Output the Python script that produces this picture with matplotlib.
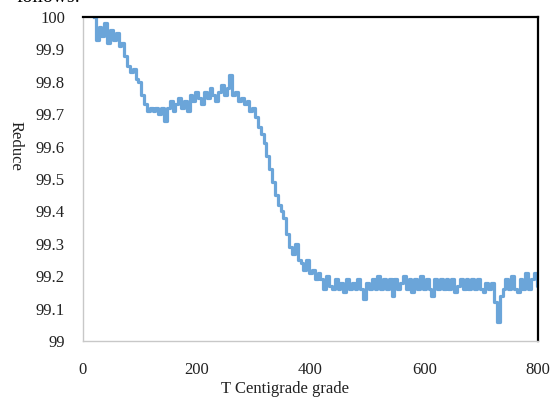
import numpy as np
import matplotlib
matplotlib.use("Agg")
import matplotlib.pyplot as plt

plt.rcParams['font.family'] = ['Liberation Serif', 'DejaVu Serif']

# temperature grid, 5 degree steps
temps = np.arange(20, 805, 5)

# mass remaining (%) per temperature step
reduce_pct = [
    100.00, 99.93, 99.97, 99.94, 99.98, 99.92, 99.96, 99.93, 99.95, 99.91,
    99.92, 99.88, 99.85, 99.83, 99.84, 99.81, 99.80, 99.76, 99.73, 99.71,
    99.72, 99.71, 99.72, 99.70, 99.72, 99.68, 99.72, 99.74, 99.71, 99.73,
    99.75, 99.72, 99.74, 99.71, 99.76, 99.74, 99.77, 99.75, 99.73, 99.77,
    99.75, 99.78, 99.76, 99.74, 99.77, 99.79, 99.76, 99.78, 99.82, 99.76,
    99.77, 99.74, 99.75, 99.73, 99.74, 99.71, 99.72, 99.69, 99.66, 99.64,
    99.61, 99.57, 99.53, 99.49, 99.45, 99.42, 99.40, 99.38, 99.33, 99.29,
    99.27, 99.30, 99.25, 99.24, 99.22, 99.25, 99.21, 99.22, 99.19, 99.21,
    99.19, 99.16, 99.20, 99.17, 99.16, 99.19, 99.16, 99.18, 99.15, 99.19,
    99.16, 99.18, 99.16, 99.19, 99.16, 99.13, 99.18, 99.16, 99.19, 99.16,
    99.20, 99.16, 99.19, 99.16, 99.19, 99.14, 99.19, 99.16, 99.18, 99.20,
    99.16, 99.19, 99.15, 99.19, 99.16, 99.20, 99.16, 99.19, 99.16, 99.14,
    99.19, 99.16, 99.19, 99.16, 99.19, 99.16, 99.19, 99.15, 99.17, 99.19,
    99.16, 99.19, 99.16, 99.19, 99.16, 99.19, 99.16, 99.15, 99.18, 99.16,
    99.18, 99.12, 99.06, 99.14, 99.16, 99.19, 99.16, 99.20, 99.16, 99.15,
    99.19, 99.16, 99.21, 99.16, 99.19, 99.21, 99.17,
]

xticks = [0, 200, 400, 600, 800]
yticks = [99, 99.1, 99.2, 99.3, 99.4, 99.5, 99.6, 99.7, 99.8, 99.9, 100]

fig = plt.figure(figsize=(5.53, 3.99), dpi=100)
ax = fig.add_axes([0.150, 0.1454, 0.823, 0.812])

ax.plot(temps, reduce_pct, color='#5b9bd5', lw=2.3, alpha=0.9,
        drawstyle='steps-mid')

ax.set_xlim(0, 800)
ax.set_ylim(99, 100)
ax.set_xticks(xticks)
ax.set_yticks(yticks)
ax.set_xticklabels([str(t) for t in xticks])
ax.set_yticklabels(['99', '99.1', '99.2', '99.3', '99.4', '99.5', '99.6',
                    '99.7', '99.8', '99.9', '100'])
ax.tick_params(length=0, labelsize=12, colors='#222222')
ax.tick_params(axis='y', pad=13)
ax.tick_params(axis='x', pad=15)

for side in ['left', 'bottom']:
    ax.spines[side].set_color('#c8c8c8')
    ax.spines[side].set_linewidth(1.0)
for side in ['top', 'right']:
    ax.spines[side].set_color('black')
    ax.spines[side].set_linewidth(1.6)

fig.text(0.515, 0.005, 'T Centigrade grade', ha='center', va='bottom',
         fontsize=12, color='#222222')
fig.text(0.028, 0.635, 'Reduce', rotation=-90, ha='center', va='center',
         fontsize=12, color='#222222')
# running text from the page above the figure, mostly off the top edge
fig.text(0.03, 0.994, 'follows:', ha='left', va='baseline', fontsize=14)

fig.savefig('out.png', dpi=100)
